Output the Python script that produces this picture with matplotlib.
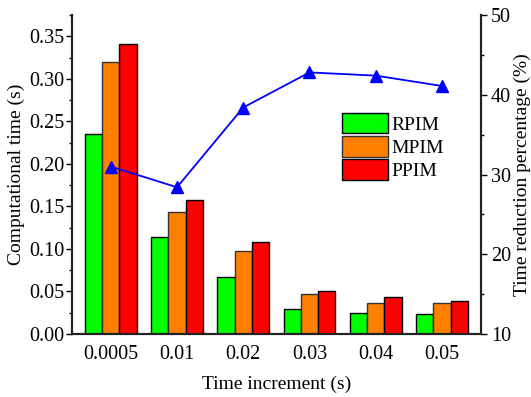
import numpy as np
import matplotlib
matplotlib.use("Agg")
import matplotlib.pyplot as plt
from matplotlib.ticker import MultipleLocator

plt.rcParams['font.family'] = ['Liberation Serif', 'DejaVu Serif']

# Dados
incrementos = ['0.0005', '0.01', '0.02', '0.03', '0.04', '0.05']
rpim = [0.235, 0.114, 0.067, 0.029, 0.025, 0.023]
mpim = [0.320, 0.144, 0.097, 0.047, 0.037, 0.0365]
ppim = [0.341, 0.158, 0.108, 0.051, 0.043, 0.039]
reducao = [31.0, 28.4, 38.4, 42.8, 42.4, 41.1]

fig = plt.figure(figsize=(5.31, 3.97), dpi=100)
ax = fig.add_axes([72 / 531, 1 - 334 / 397, 409 / 531, 319 / 397])
ax2 = ax.twinx()

x = np.arange(len(incrementos))
w = 0.26
ax.bar(x - w, rpim, w, color='#00ff00', edgecolor='black', linewidth=1, label='RPIM')
ax.bar(x, mpim, w, color='#ff8000', edgecolor='#333333', linewidth=1, label='MPIM')
ax.bar(x + w, ppim, w, color='#ff0000', edgecolor='black', linewidth=1, label='PPIM')

ax2.plot(x, reducao, color='#0000ff', marker='^', markersize=9, linewidth=1.3)

ax.set_xlim(-0.585, 5.59)
ax.set_ylim(0, 0.375)
ax2.set_ylim(10, 50)

ax.set_xticks(x)
ax.set_xticklabels(incrementos)
ax.tick_params(axis='x', length=0, labelsize=14.5, pad=8)
ax.yaxis.set_major_locator(MultipleLocator(0.05))
ax.yaxis.set_minor_locator(MultipleLocator(0.025))
ax.yaxis.set_major_formatter(plt.FormatStrFormatter('%.2f'))
ax.tick_params(axis='y', which='major', length=4, width=1, labelsize=14.5, pad=1.5)
ax.tick_params(axis='y', which='minor', length=2.5, width=1)

ax2.yaxis.set_major_locator(MultipleLocator(10))
ax2.yaxis.set_minor_locator(MultipleLocator(5))
ax2.tick_params(axis='y', which='major', length=4, width=1, labelsize=14.5, pad=3)
ax2.tick_params(axis='y', which='minor', length=2.5, width=1)

for a in (ax, ax2):
    a.spines['top'].set_visible(False)
    for s in ('left', 'right', 'bottom'):
        a.spines[s].set_linewidth(1.5)
        a.spines[s].set_color('#222222')

ax.set_xlabel('Time increment (s)', fontsize=14, labelpad=8)
ax.set_ylabel('Computational time (s)', fontsize=14, labelpad=3)
ax2.set_ylabel('Time reduction percentage (%)', fontsize=14, labelpad=2)

ax.legend(loc='upper left', bbox_to_anchor=(0.659, 0.693), frameon=False,
          fontsize=14, handlelength=2.4, handleheight=1.25, labelspacing=0.12,
          handletextpad=0.15, borderpad=0, borderaxespad=0)

fig.savefig('out.png', dpi=100)
